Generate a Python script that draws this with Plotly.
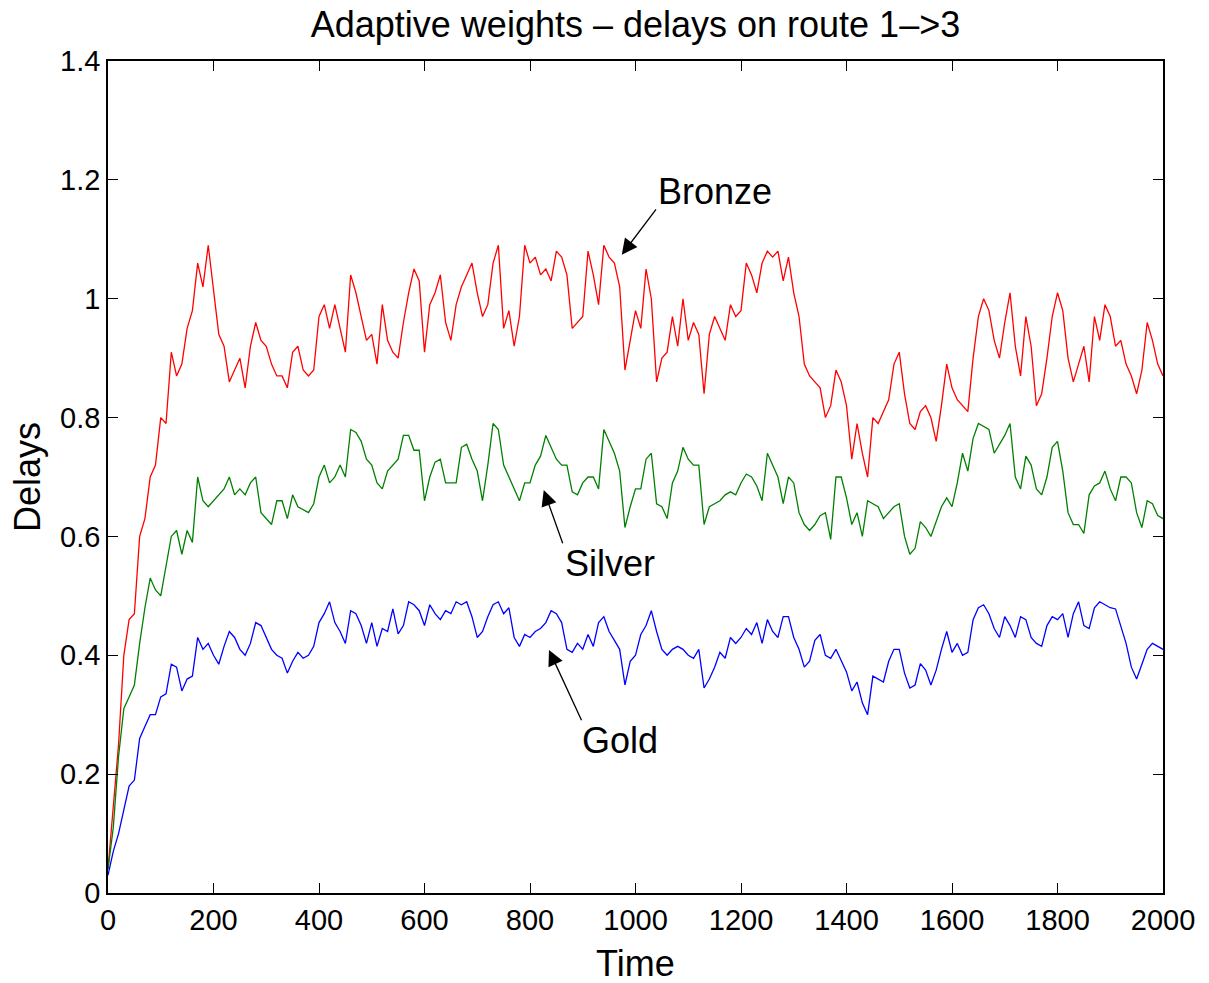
import plotly.graph_objects as go

# Simulation time, sampled every 10 units
time = list(range(0, 2001, 10))

# Mean packet delay per service class on route 1->3
bronze = [
    0.04, 0.15, 0.25, 0.40, 0.46, 0.47, 0.60, 0.63, 0.70, 0.72,
    0.80, 0.79, 0.91, 0.87, 0.89, 0.95, 0.98, 1.06, 1.02, 1.09,
    1.01, 0.94, 0.92, 0.86, 0.88, 0.90, 0.85, 0.92, 0.96, 0.93,
    0.92, 0.89, 0.87, 0.87, 0.85, 0.91, 0.92, 0.88, 0.87, 0.88,
    0.97, 0.99, 0.95, 0.99, 0.95, 0.91, 1.04, 1.01, 0.97, 0.93,
    0.94, 0.89, 0.99, 0.93, 0.91, 0.90, 0.96, 1.01, 1.05, 1.03,
    0.91, 0.99, 1.01, 1.04, 0.96, 0.93, 0.99, 1.02, 1.04, 1.06,
    1.01, 0.97, 0.99, 1.06, 1.09, 0.95, 0.98, 0.92, 0.97, 1.09,
    1.06, 1.07, 1.04, 1.05, 1.03, 1.08, 1.07, 1.04, 0.95, 0.96,
    0.97, 1.08, 1.04, 0.99, 1.09, 1.07, 1.06, 1.02, 0.88, 0.93,
    0.98, 0.95, 1.05, 1.00, 0.86, 0.90, 0.91, 0.97, 0.92, 1.00,
    0.93, 0.96, 0.94, 0.84, 0.94, 0.97, 0.95, 0.93, 0.99, 0.97,
    0.98, 1.06, 1.04, 1.01, 1.06, 1.08, 1.07, 1.08, 1.03, 1.07,
    1.01, 0.97, 0.89, 0.87, 0.86, 0.85, 0.80, 0.82, 0.88, 0.86,
    0.82, 0.73, 0.79, 0.74, 0.70, 0.80, 0.79, 0.81, 0.83, 0.89,
    0.91, 0.84, 0.79, 0.78, 0.81, 0.82, 0.80, 0.76, 0.82, 0.89,
    0.85, 0.83, 0.82, 0.81, 0.90, 0.97, 1.00, 0.98, 0.93, 0.90,
    0.96, 1.01, 0.92, 0.87, 0.97, 0.92, 0.82, 0.84, 0.90, 0.97,
    1.01, 0.98, 0.90, 0.86, 0.89, 0.92, 0.86, 0.97, 0.93, 0.99,
    0.97, 0.92, 0.93, 0.89, 0.87, 0.84, 0.88, 0.96, 0.93, 0.89,
    0.87,
]

silver = [
    0.04, 0.11, 0.23, 0.31, 0.33, 0.35, 0.42, 0.48, 0.53, 0.51,
    0.50, 0.55, 0.60, 0.61, 0.57, 0.61, 0.59, 0.70, 0.66, 0.65,
    0.66, 0.67, 0.68, 0.70, 0.67, 0.68, 0.67, 0.69, 0.70, 0.64,
    0.63, 0.62, 0.66, 0.66, 0.63, 0.67, 0.65, 0.645, 0.64, 0.655,
    0.70, 0.72, 0.69, 0.70, 0.72, 0.70, 0.78, 0.775, 0.76, 0.73,
    0.72, 0.69, 0.68, 0.71, 0.72, 0.73, 0.77, 0.77, 0.745, 0.745,
    0.66, 0.70, 0.725, 0.73, 0.69, 0.69, 0.69, 0.75, 0.755, 0.73,
    0.71, 0.66, 0.72, 0.79, 0.78, 0.72, 0.70, 0.68, 0.66, 0.69,
    0.69, 0.72, 0.735, 0.77, 0.75, 0.73, 0.72, 0.72, 0.675, 0.67,
    0.69, 0.70, 0.70, 0.68, 0.78, 0.76, 0.74, 0.71, 0.615, 0.65,
    0.68, 0.68, 0.73, 0.74, 0.655, 0.65, 0.63, 0.69, 0.71, 0.75,
    0.73, 0.72, 0.72, 0.62, 0.65, 0.655, 0.66, 0.67, 0.675, 0.67,
    0.69, 0.705, 0.70, 0.685, 0.66, 0.74, 0.72, 0.70, 0.655, 0.70,
    0.69, 0.64, 0.62, 0.61, 0.62, 0.635, 0.64, 0.595, 0.70, 0.70,
    0.665, 0.62, 0.64, 0.60, 0.66, 0.655, 0.65, 0.63, 0.64, 0.65,
    0.655, 0.60, 0.57, 0.58, 0.625, 0.615, 0.60, 0.625, 0.65, 0.665,
    0.65, 0.69, 0.74, 0.71, 0.765, 0.79, 0.785, 0.78, 0.74, 0.755,
    0.77, 0.79, 0.70, 0.68, 0.735, 0.72, 0.68, 0.67, 0.70, 0.75,
    0.76, 0.71, 0.64, 0.62, 0.62, 0.605, 0.67, 0.685, 0.69, 0.71,
    0.68, 0.66, 0.70, 0.70, 0.69, 0.64, 0.615, 0.66, 0.655, 0.635,
    0.63,
]

gold = [
    0.03, 0.07, 0.10, 0.14, 0.18, 0.19, 0.26, 0.28, 0.30, 0.30,
    0.33, 0.335, 0.385, 0.38, 0.34, 0.36, 0.365, 0.43, 0.41, 0.42,
    0.40, 0.385, 0.415, 0.44, 0.43, 0.41, 0.40, 0.42, 0.455, 0.45,
    0.43, 0.41, 0.40, 0.395, 0.37, 0.39, 0.405, 0.395, 0.40, 0.415,
    0.455, 0.47, 0.49, 0.455, 0.44, 0.42, 0.475, 0.47, 0.45, 0.42,
    0.455, 0.415, 0.445, 0.44, 0.478, 0.436, 0.45, 0.49, 0.485, 0.475,
    0.45, 0.485, 0.47, 0.46, 0.475, 0.47, 0.49, 0.485, 0.49, 0.465,
    0.43, 0.44, 0.465, 0.485, 0.49, 0.47, 0.48, 0.43, 0.415, 0.435,
    0.43, 0.44, 0.445, 0.455, 0.475, 0.47, 0.455, 0.41, 0.405, 0.42,
    0.41, 0.435, 0.415, 0.455, 0.465, 0.44, 0.425, 0.41, 0.35, 0.39,
    0.40, 0.435, 0.45, 0.475, 0.44, 0.41, 0.40, 0.41, 0.415, 0.41,
    0.40, 0.395, 0.41, 0.345, 0.36, 0.38, 0.405, 0.395, 0.43, 0.42,
    0.43, 0.445, 0.435, 0.455, 0.42, 0.46, 0.44, 0.43, 0.465, 0.465,
    0.43, 0.41, 0.38, 0.39, 0.425, 0.435, 0.40, 0.395, 0.41, 0.39,
    0.372, 0.34, 0.355, 0.32, 0.30, 0.365, 0.36, 0.355, 0.39, 0.41,
    0.41, 0.37, 0.345, 0.35, 0.386, 0.375, 0.35, 0.375, 0.41, 0.44,
    0.405, 0.42, 0.40, 0.405, 0.46, 0.48, 0.485, 0.47, 0.445, 0.43,
    0.465, 0.45, 0.43, 0.465, 0.46, 0.43, 0.42, 0.415, 0.45, 0.465,
    0.46, 0.47, 0.43, 0.47, 0.49, 0.45, 0.445, 0.48, 0.49, 0.485,
    0.48, 0.478, 0.45, 0.42, 0.38, 0.36, 0.385, 0.41, 0.42, 0.415,
    0.41,
]

x_ticks = list(range(0, 2001, 200))
y_ticks = [0, 0.2, 0.4, 0.6, 0.8, 1.0, 1.2, 1.4]

FONT = "Liberation Sans, Arial, Helvetica, sans-serif"
TEXT_SIZE = 36
TICK_SIZE = 29

fig = go.Figure()
for name, values, colour in [
    ("Bronze", bronze, "#ff0000"),
    ("Silver", silver, "#008000"),
    ("Gold", gold, "#0000ff"),
]:
    fig.add_trace(go.Scatter(
        x=time, y=values, mode="lines", name=name,
        line=dict(color=colour, width=1.3),
        showlegend=False,
    ))

# Class labels with arrows pointing at each curve
labels = [
    # text, text position, arrow tail, arrow tip
    ("Bronze", (1150, 1.181), (1041, 1.153), (974, 1.074)),
    ("Silver", (952, 0.555), (863, 0.586), (826, 0.678)),
    ("Gold", (971, 0.257), (899, 0.288), (836, 0.409)),
]
annotations = []
for text, (tx, ty), (ax, ay), (hx, hy) in labels:
    annotations.append(dict(
        x=hx, y=hy, ax=ax, ay=ay, xref="x", yref="y", axref="x", ayref="y",
        text="", showarrow=True, arrowhead=2, arrowsize=2.4, arrowwidth=1.3,
        arrowcolor="black",
    ))
    annotations.append(dict(
        x=tx, y=ty, xref="x", yref="y", text=text, showarrow=False,
        xanchor="center", yanchor="middle",
        font=dict(family=FONT, size=TEXT_SIZE, color="black"),
    ))

# Axis titles
annotations.append(dict(
    x=0.5, y=-70 / 832, xref="paper", yref="paper", text="Time",
    showarrow=False, xanchor="center", yanchor="middle",
    font=dict(family=FONT, size=TEXT_SIZE, color="black"),
))
annotations.append(dict(
    x=-81 / 1055, y=0.5, xref="paper", yref="paper", text="Delays",
    showarrow=False, xanchor="center", yanchor="middle", textangle=-90,
    font=dict(family=FONT, size=TEXT_SIZE, color="black"),
))

axis_common = dict(
    showgrid=False, zeroline=False, showline=True, linecolor="black",
    linewidth=1.5, mirror="ticks", ticks="inside", ticklen=10,
    tickwidth=1, tickcolor="black",
    tickfont=dict(family=FONT, size=TICK_SIZE, color="black"),
)

fig.update_layout(
    width=1209, height=983,
    margin=dict(l=108, r=46, t=61, b=90),
    paper_bgcolor="white", plot_bgcolor="white",
    title=dict(
        text="Adaptive weights \u2013 delays on route 1\u2013>3",
        x=0.5, xref="paper", y=1 - 24 / 983, yref="container",
        xanchor="center", yanchor="middle",
        font=dict(family=FONT, size=TEXT_SIZE, color="black"),
    ),
    xaxis=dict(range=[0, 2000], tickvals=x_ticks, **axis_common),
    yaxis=dict(range=[0, 1.4], tickvals=y_ticks, **axis_common),
    annotations=annotations,
)

fig.write_html("out.html")
